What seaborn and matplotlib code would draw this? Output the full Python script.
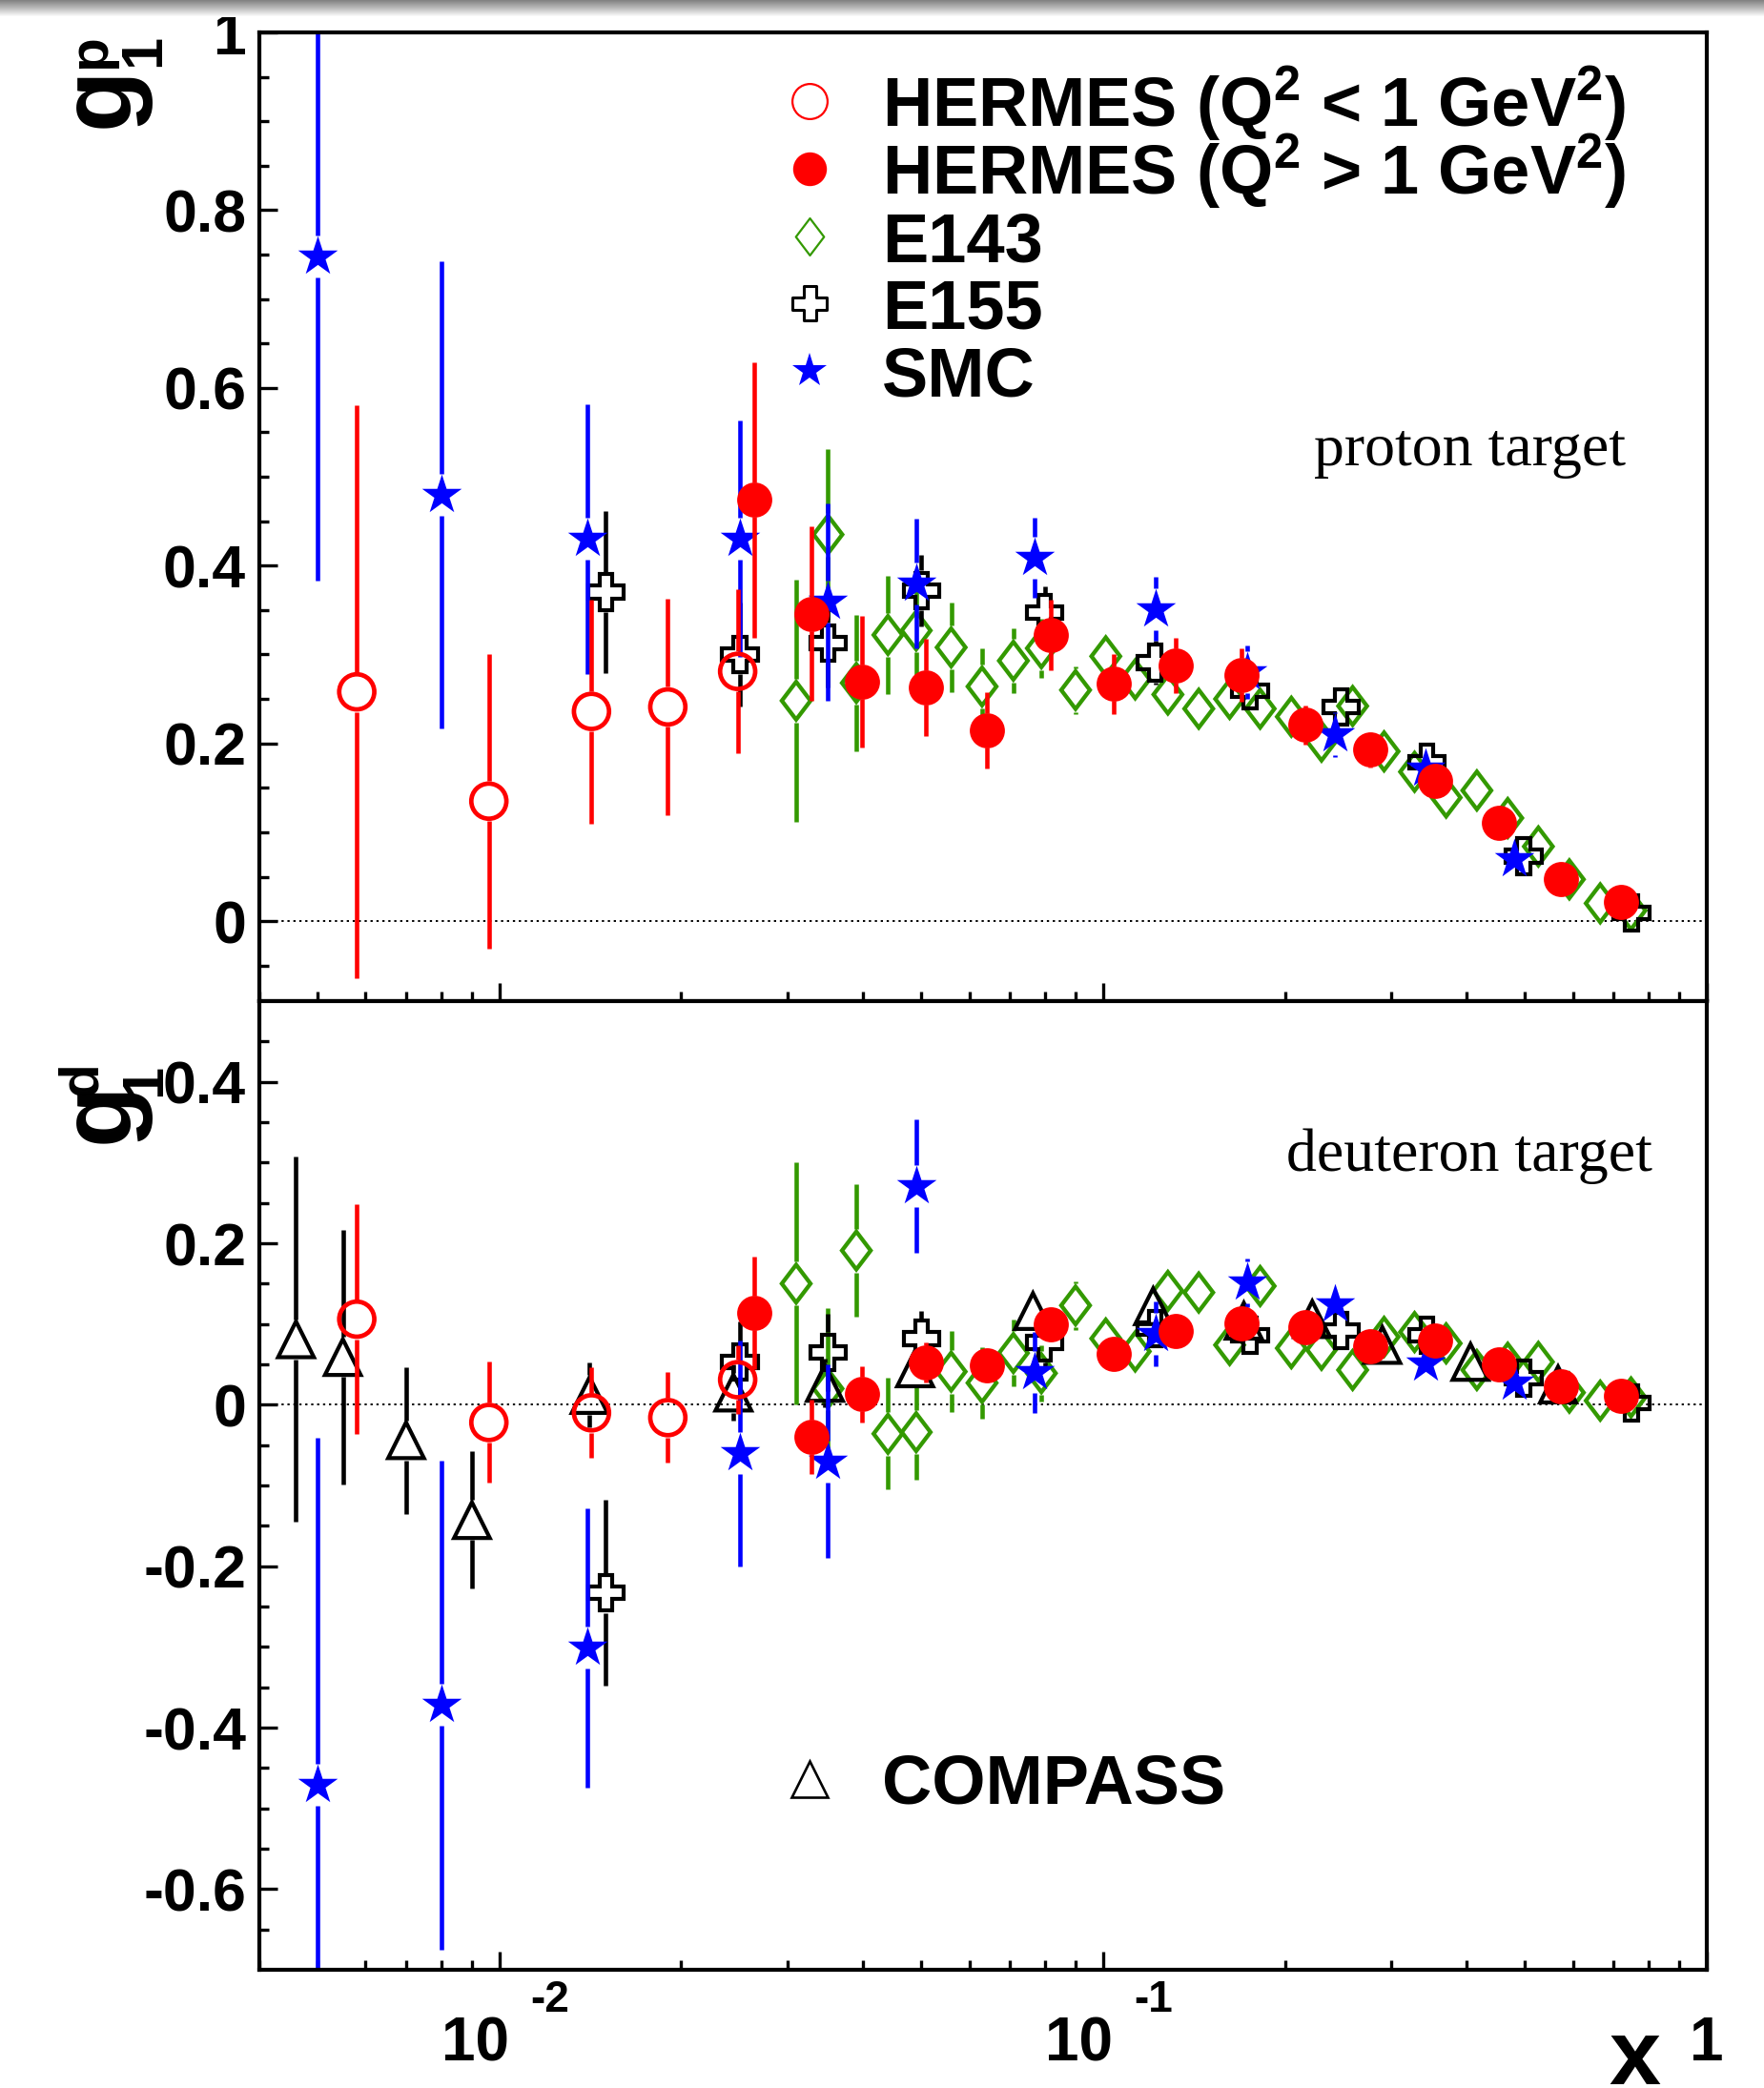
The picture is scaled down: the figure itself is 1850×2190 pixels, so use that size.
import numpy as np
import matplotlib
matplotlib.use("Agg")
import matplotlib.pyplot as plt
from matplotlib.path import Path
from matplotlib.ticker import FixedLocator, NullFormatter
from matplotlib.transforms import ScaledTranslation
import seaborn as sns

# ---------------- proton target ----------------
p_hermes_lo_x = [0.0058, 0.0096, 0.0142, 0.0190, 0.0248]
p_hermes_lo_y = [0.258, 0.135, 0.236, 0.241, 0.281]
p_hermes_lo_e = [0.322, 0.166, 0.126, 0.122, 0.092]

hermes_hi_x = [0.0264, 0.0329, 0.0399, 0.0508, 0.0642, 0.0820, 0.1041, 0.1319,
               0.1692, 0.2165, 0.2767, 0.3544, 0.4520, 0.5740, 0.7221]
p_hermes_hi_y = [0.474, 0.346, 0.269, 0.263, 0.215, 0.322, 0.267, 0.288,
                 0.277, 0.221, 0.193, 0.158, 0.111, 0.047, 0.022]
p_hermes_hi_e = [0.155, 0.098, 0.074, 0.055, 0.043, 0.040, 0.034, 0.031,
                 0.030, 0.022, 0.020, 0.018, 0.015, 0.012, 0.010]

e143_x = [0.031, 0.035, 0.039, 0.044, 0.049, 0.056, 0.063, 0.071, 0.079, 0.090,
          0.101, 0.113, 0.128, 0.144, 0.162, 0.182, 0.205, 0.230, 0.259, 0.292,
          0.328, 0.370, 0.416, 0.468, 0.526, 0.592, 0.666, 0.749]
p_e143_y = [0.248, 0.435, 0.268, 0.322, 0.327, 0.308, 0.264, 0.293, 0.307, 0.260,
            0.298, 0.272, 0.255, 0.239, 0.250, 0.239, 0.230, 0.202, 0.242, 0.191,
            0.168, 0.139, 0.147, 0.116, 0.084, 0.047, 0.020, 0.012]
p_e143_e = [0.136, 0.096, 0.077, 0.067, 0.060, 0.050, 0.043, 0.037, 0.033, 0.027,
            0.024, 0.022, 0.020, 0.018, 0.016, 0.015, 0.014, 0.013, 0.012, 0.012,
            0.011, 0.011, 0.010, 0.010, 0.009, 0.009, 0.008, 0.008]

e155_x = [0.015, 0.025, 0.035, 0.050, 0.080, 0.122, 0.175, 0.248, 0.344, 0.497, 0.750]
p_e155_y = [0.370, 0.300, 0.313, 0.372, 0.347, 0.291, 0.259, 0.241, 0.179, 0.073, 0.009]
p_e155_e = [0.091, 0.058, 0.050, 0.040, 0.030, 0.025, 0.020, 0.018, 0.015, 0.012, 0.010]

smc_x = [0.005, 0.008, 0.014, 0.025, 0.035, 0.049, 0.077, 0.122, 0.173, 0.242, 0.342, 0.480]
p_smc_y = [0.748, 0.480, 0.430, 0.430, 0.359, 0.380, 0.409, 0.351, 0.280, 0.210, 0.172, 0.070]
p_smc_e = [0.365, 0.263, 0.152, 0.133, 0.111, 0.073, 0.045, 0.036, 0.030, 0.025, 0.020, 0.015]

# ---------------- deuteron target ----------------
d_hermes_lo_y = [0.106, -0.022, -0.010, -0.016, 0.031]
d_hermes_lo_e = [0.142, 0.075, 0.056, 0.056, 0.043]

d_hermes_hi_y = [0.114, -0.040, 0.013, 0.052, 0.049, 0.100, 0.063, 0.091,
                 0.101, 0.096, 0.072, 0.080, 0.050, 0.023, 0.011]
d_hermes_hi_e = [0.070, 0.046, 0.035, 0.025, 0.020, 0.017, 0.015, 0.013,
                 0.012, 0.011, 0.010, 0.010, 0.009, 0.008, 0.008]

d_e143_y = [0.150, 0.020, 0.191, -0.036, -0.034, 0.041, 0.027, 0.064, 0.039, 0.123,
            0.082, 0.066, 0.141, 0.139, 0.074, 0.147, 0.070, 0.068, 0.043, 0.084,
            0.090, 0.076, 0.043, 0.052, 0.053, 0.015, 0.005, 0.009]
d_e143_e = [0.150, 0.100, 0.082, 0.069, 0.059, 0.050, 0.044, 0.041, 0.035, 0.030,
            0.026, 0.023, 0.020, 0.018, 0.016, 0.015, 0.014, 0.013, 0.012, 0.012,
            0.011, 0.011, 0.010, 0.010, 0.009, 0.009, 0.008, 0.008]

d_e155_y = [-0.233, 0.053, 0.065, 0.082, 0.077, 0.094, 0.086, 0.092, 0.086, 0.033, 0.002]
d_e155_e = [0.115, 0.050, 0.048, 0.034, 0.030, 0.025, 0.020, 0.015, 0.012, 0.010, 0.010]

d_smc_y = [-0.471, -0.372, -0.301, -0.060, -0.070, 0.271, 0.040, 0.088, 0.151, 0.124, 0.051, 0.027]
d_smc_e = [0.430, 0.303, 0.173, 0.140, 0.120, 0.083, 0.050, 0.040, 0.030, 0.025, 0.020, 0.020]

compass_x = [0.0046, 0.0055, 0.0070, 0.0090, 0.0141, 0.0244, 0.0346, 0.0488,
             0.0765, 0.121, 0.171, 0.222, 0.290, 0.406, 0.567]
d_compass_y = [0.081, 0.059, -0.044, -0.143, 0.012, 0.015, 0.027, 0.045,
               0.116, 0.122, 0.104, 0.106, 0.074, 0.053, 0.025]
d_compass_e = [0.226, 0.158, 0.091, 0.085, 0.040, 0.035, 0.030, 0.025,
               0.020, 0.018, 0.015, 0.013, 0.012, 0.010, 0.010]

legend_top = ["HERMES (Q$^{2}$ < 1 GeV$^{2}$)", "HERMES (Q$^{2}$ > 1 GeV$^{2}$)",
              "E143", "E155", "SMC"]
legend_bottom = ["COMPASS"]

p_ticks = [0.0, 0.2, 0.4, 0.6, 0.8, 1.0]
p_tick_labels = ["0", "0.2", "0.4", "0.6", "0.8", "1"]
d_ticks = [-0.6, -0.4, -0.2, 0.0, 0.2, 0.4]
d_tick_labels = ["-0.6", "-0.4", "-0.2", "0", "0.2", "0.4"]
x_ticks = [0.01, 0.1, 1.0]
x_tick_labels = ["10", "10", "1"]
x_tick_exponents = ["-2", "-1", ""]

# ---------------- style ----------------
sns.set_theme(style="white")
plt.rcParams["font.family"] = ["Liberation Sans", "DejaVu Sans"]
plt.rcParams["font.weight"] = "bold"
plt.rcParams["mathtext.fontset"] = "custom"
plt.rcParams["mathtext.rm"] = "Liberation Sans:bold"
plt.rcParams["mathtext.it"] = "Liberation Sans:bold"
plt.rcParams["mathtext.bf"] = "Liberation Sans:bold"
plt.rcParams["mathtext.sf"] = "Liberation Sans:bold"

RED, BLUE, GREEN, BLACK = "#ff0000", "#0000ff", "#339900", "#000000"

diamond = Path([(0, 1), (0.76, 0), (0, -1), (-0.76, 0), (0, 1)],
               [Path.MOVETO, Path.LINETO, Path.LINETO, Path.LINETO, Path.CLOSEPOLY])
a = 0.36
cross_v = [(-a, 1), (a, 1), (a, a), (1, a), (1, -a), (a, -a), (a, -1), (-a, -1),
           (-a, -a), (-1, -a), (-1, a), (-a, a), (-a, 1)]
cross = Path(cross_v, [Path.MOVETO] + [Path.LINETO] * 11 + [Path.CLOSEPOLY])

PX = 100 / 72.0  # pixels per point

styles = {
    "hermes_lo": dict(color=RED, marker="o", face="none", ms=26.5, mew=3.4, gap=21, z=10),
    "hermes_hi": dict(color=RED, marker="o", face=RED, ms=26.5, mew=0, gap=18, z=12),
    "e143": dict(color=GREEN, marker=diamond, face="none", ms=28.5, mew=3.1, gap=23, z=2),
    "e155": dict(color=BLACK, marker=cross, face="none", ms=27, mew=3.0, gap=21, z=6),
    "smc": dict(color=BLUE, marker="*", face=BLUE, ms=31.5, mew=0, gap=22, z=8),
    "compass": dict(color=BLACK, marker="^", face="none", ms=27, mew=3.0, gap=21, z=4),
}

W, H = 1850, 2190
fig = plt.figure(figsize=(W / 100, H / 100), dpi=100)


def fx(px):
    return px / W


def fy(py):
    return 1 - py / H


L, R = 272, 1790
ax_p = fig.add_axes([fx(L), fy(1050), fx(R) - fx(L), fy(34) - fy(1050)])
ax_d = fig.add_axes([fx(L), fy(2066), fx(R) - fx(L), fy(1050) - fy(2066)])

ax_p.set_xscale("log")
ax_d.set_xscale("log")
for ax in (ax_p, ax_d):
    ax.set_xlim(0.004, 1.0)
ax_p.set_ylim(-0.09, 1.0)
ax_d.set_ylim(-0.7, 0.5)


def draw(ax, x, y, e, key):
    st = styles[key]
    x = np.asarray(x, float)
    y = np.asarray(y, float)
    e = np.asarray(e, float)
    ppu = abs(ax.transData.transform((1, 1))[1] - ax.transData.transform((1, 0))[1])
    g = st["gap"] / ppu
    keep = e > g
    lw = 3.3
    ax.vlines(x[keep], (y - e)[keep], (y - g)[keep], colors=st["color"], linewidth=lw,
              zorder=st["z"])
    ax.vlines(x[keep], (y + g)[keep], (y + e)[keep], colors=st["color"], linewidth=lw,
              zorder=st["z"])
    sns.scatterplot(x=x, y=y, ax=ax, marker=st["marker"], s=st["ms"] ** 2,
                    color=st["face"], edgecolor=st["color"], linewidth=st["mew"],
                    zorder=st["z"] + 1, legend=False, joinstyle="miter")


# proton panel
draw(ax_p, e143_x, p_e143_y, p_e143_e, "e143")
draw(ax_p, e155_x, p_e155_y, p_e155_e, "e155")
draw(ax_p, smc_x, p_smc_y, p_smc_e, "smc")
draw(ax_p, p_hermes_lo_x, p_hermes_lo_y, p_hermes_lo_e, "hermes_lo")
draw(ax_p, hermes_hi_x, p_hermes_hi_y, p_hermes_hi_e, "hermes_hi")

# deuteron panel
draw(ax_d, e143_x, d_e143_y, d_e143_e, "e143")
draw(ax_d, compass_x, d_compass_y, d_compass_e, "compass")
draw(ax_d, e155_x, d_e155_y, d_e155_e, "e155")
draw(ax_d, smc_x, d_smc_y, d_smc_e, "smc")
draw(ax_d, p_hermes_lo_x, d_hermes_lo_y, d_hermes_lo_e, "hermes_lo")
draw(ax_d, hermes_hi_x, d_hermes_hi_y, d_hermes_hi_e, "hermes_hi")

# axes frame, ticks, zero line
minor_x = [m * 10.0 ** k for k in (-3, -2, -1) for m in range(2, 10)]
for ax in (ax_p, ax_d):
    ax.axhline(0, xmin=0.011, color="black", lw=1.4, ls=(0, (1.2, 2.0)), zorder=1)
    for sp in ax.spines.values():
        sp.set_color("black")
        sp.set_linewidth(3.0)
        sp.set_zorder(20)
    ax.xaxis.set_minor_locator(FixedLocator(minor_x))
    ax.xaxis.set_minor_formatter(NullFormatter())
    ax.tick_params(which="both", direction="in", top=False, right=False,
                   bottom=True, left=True, color="black", width=2.4)
    ax.tick_params(which="major", length=14)
    ax.tick_params(which="minor", length=7)
    ax.tick_params(axis="y", labelsize=45, pad=10, labelcolor="black")
    ax.grid(False)

ax_p.set_yticks(p_ticks, p_tick_labels)
ax_p.yaxis.set_minor_locator(FixedLocator(np.arange(-0.05, 1.0, 0.05)))
ax_d.set_yticks(d_ticks, d_tick_labels)
ax_d.yaxis.set_minor_locator(FixedLocator(np.arange(-0.65, 0.5, 0.05)))

ax_p.set_xticks(x_ticks)
ax_p.tick_params(axis="x", labelbottom=False)
ax_d.set_xticks(x_ticks)
ax_d.set_xticklabels(x_tick_labels, va="baseline", fontsize=46, color="black")
ax_d.tick_params(axis="x", pad=95 / PX)
nudge = ScaledTranslation(10 / 100, 0, fig.dpi_scale_trans)
for lab, ex in zip(ax_d.get_xticklabels(), x_tick_exponents):
    if ex:
        lab.set_horizontalalignment("right")
        lab.set_transform(lab.get_transform() + nudge)
for t in ax_d.get_yticklabels() + ax_p.get_yticklabels():
    t.set_fontweight("bold")

# decade exponents raised after the "10"
for tx, ex in zip(x_ticks, x_tick_exponents):
    if ex:
        ax_d.annotate(ex, xy=(tx, 0), xycoords=("data", "axes fraction"),
                      xytext=(32 / PX, -44 / PX), textcoords="offset points",
                      ha="left", va="baseline", fontsize=33, fontweight="bold",
                      color="black", annotation_clip=False)


# legend entries
def legend_marker(ax, xp, yp, key, ms, mew):
    st = styles[key]
    ax.plot([fx(xp)], [fy(yp)], transform=fig.transFigure, clip_on=False,
            marker=st["marker"], ms=ms, mfc=st["face"], mec=st["color"], mew=mew,
            ls="none", zorder=30)


leg_y = [106, 177.3, 248.3, 318.3, 389]
leg_keys = ["hermes_lo", "hermes_hi", "e143", "e155", "smc"]
leg_ms = [[26.5, 1.6], [25.5, 0], [28, 1.6], [26, 2.2], [27, 0]]
for yp, key, (ms, mew), lab in zip(leg_y, leg_keys, leg_ms, legend_top):
    legend_marker(ax_p, 849, yp, key, ms, mew)
    fig.text(fx(925), fy(yp + 26), lab, fontsize=52, fontweight="bold",
             ha="left", va="baseline", color="black")

legend_marker(ax_d, 849, 1866, "compass", 27, 1.9)
fig.text(fx(925), fy(1866 + 26), legend_bottom[0], fontsize=52, fontweight="bold",
         ha="left", va="baseline", color="black")

# target annotations
fig.text(fx(1705), fy(488), "proton target", fontsize=46, ha="right", va="baseline",
         family=["Liberation Serif", "DejaVu Serif"], fontweight="normal", color="black")
fig.text(fx(1733), fy(1228), "deuteron target", fontsize=46, ha="right", va="baseline",
         family=["Liberation Serif", "DejaVu Serif"], fontweight="normal", color="black")


# vertical axis titles, built from a large "g" with stacked sub/superscripts
def vlabel(base_x, start_y, sup, sup_x, sup_y, sub_x, sub_y):
    kw = dict(rotation=90, rotation_mode="anchor", ha="left", va="baseline",
              fontweight="bold", color="black")
    fig.text(fx(base_x), fy(start_y), "g", fontsize=76, **kw)
    fig.text(fx(sup_x), fy(sup_y), sup, fontsize=42, **kw)
    fig.text(fx(sub_x), fy(sub_y), "1", fontsize=44, **kw)


vlabel(135, 134, "p", 110, 72, 167, 70)
vlabel(135, 1199, "d", 101, 1149, 168, 1150)

fig.text(fx(1714), fy(2186), "x", fontsize=70, fontweight="bold", ha="center",
         va="baseline", color="black")

# soft shadow along the top edge
band = fig.add_axes([0, fy(18), 1, 18 / H])
grad = np.linspace(0.6, 1.0, 18) ** 1.3
band.imshow(grad[:, None] * np.ones((1, 10)), cmap="gray", vmin=0, vmax=1,
            aspect="auto", extent=[0, 1, 0, 1])
band.set_axis_off()

fig.savefig("out.png", dpi=100, facecolor="white")
